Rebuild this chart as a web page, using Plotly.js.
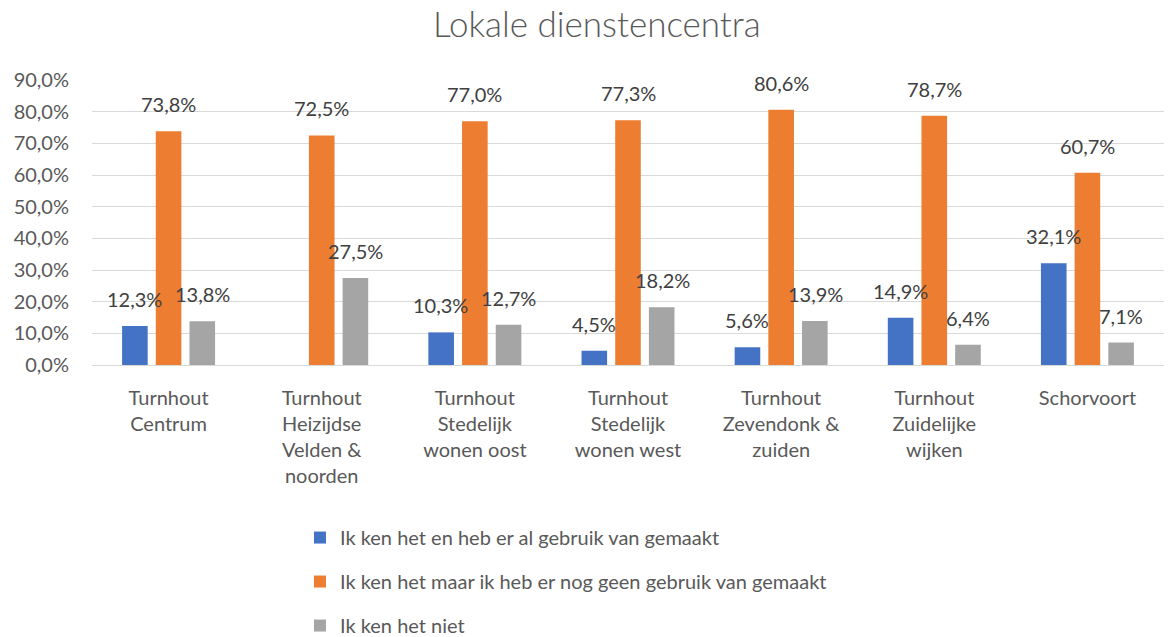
<!DOCTYPE html>
<html>
<head>
<meta charset="utf-8">
<script src="https://cdn.plot.ly/plotly-3.0.1.min.js"></script>
<style>
    html, body { margin: 0; padding: 0; background: #fff; overflow: hidden; }
    #chart { width: 1168px; height: 660px; }
</style>
</head>
<body>
<div id="chart"></div>
<script>
const categories = [
    'Turnhout<br>Centrum',
    'Turnhout<br>Heizijdse<br>Velden &<br>noorden',
    'Turnhout<br>Stedelijk<br>wonen oost',
    'Turnhout<br>Stedelijk<br>wonen west',
    'Turnhout<br>Zevendonk &<br>zuiden',
    'Turnhout<br>Zuidelijke<br>wijken',
    'Schorvoort',
];

const seriesNames = [
    'Ik ken het en heb er al gebruik van gemaakt',
    'Ik ken het maar ik heb er nog geen gebruik van gemaakt',
    'Ik ken het niet',
];

const usedValues = [0.123, null, 0.103, 0.045, 0.056, 0.149, 0.321];
const knownValues = [0.738, 0.725, 0.770, 0.773, 0.806, 0.787, 0.607];
const unknownValues = [0.138, 0.275, 0.127, 0.182, 0.139, 0.064, 0.071];

const seriesColors = ['#4472C4', '#ED7D31', '#A5A5A5'];
const textColor = '#595959';
const fontFamily = 'Lato, "Open Sans", sans-serif';

const allValues = [usedValues, knownValues, unknownValues];

function formatPercent(value) {
    return `${(value * 100).toFixed(1).replace('.', ',')}%`;
}

const data = allValues.map((values, index) => ({
    x: categories,
    y: values,
    type: 'bar',
    name: seriesNames[index],
    legendgroup: `g${index}`,
    marker: { color: seriesColors[index] },
    hoverinfo: 'none',
}));

// data labels above each bar, shifted to the bar's slot in the group
const slotShift = [-34, 0, 34];
const annotations = [];
allValues.forEach((values, seriesIndex) => {
    values.forEach((value, catIndex) => {
        if (value === null) {
            return;
        }
        annotations.push({
            x: categories[catIndex],
            y: value,
            xref: 'x',
            yref: 'y',
            text: formatPercent(value),
            showarrow: false,
            xshift: slotShift[seriesIndex],
            yshift: 13,
            yanchor: 'bottom',
            font: { family: fontFamily, size: 20, color: '#404040' },
        });
    });
});

// the page is a bit taller than the window so the legend's last row can sit near the bottom edge
const layout = {
    width: 1168,
    height: 660,
    title: {
        text: 'Lokale dienstencentra',
        font: { family: fontFamily, size: 35, color: textColor, weight: 300 },
        x: 0.511,
        xanchor: 'center',
        y: 1 - 25 / 660,
        yanchor: 'middle',
    },
    separators: ', ',
    barmode: 'group',
    bargap: 0.34,
    bargroupgap: 0.24,
    margin: { l: 92, r: 4, t: 80, b: 295 },
    xaxis: {
        tickfont: { family: fontFamily, size: 20, color: textColor },
        showline: false,
        ticks: '',
        ticklabelstandoff: 19,
        fixedrange: true,
    },
    yaxis: {
        range: [0, 0.9],
        dtick: 0.1,
        tickformat: '.1%',
        tickfont: { family: fontFamily, size: 20, color: textColor },
        gridcolor: '#D9D9D9',
        gridwidth: 1,
        zeroline: true,
        zerolinecolor: '#D9D9D9',
        zerolinewidth: 1,
        ticks: '',
        ticklabelstandoff: 22,
        fixedrange: true,
    },
    legend: {
        orientation: 'v',
        x: 0.194,
        xanchor: 'left',
        y: -0.537,
        yanchor: 'top',
        traceorder: 'grouped',
        tracegroupgap: 15,
        font: { family: fontFamily, size: 20, color: textColor },
        itemwidth: 30,
    },
    annotations: annotations,
    paper_bgcolor: 'white',
    plot_bgcolor: 'white',
    showlegend: true,
};

Plotly.newPlot('chart', data, layout, { displayModeBar: false, staticPlot: true });
</script>
</body>
</html>
